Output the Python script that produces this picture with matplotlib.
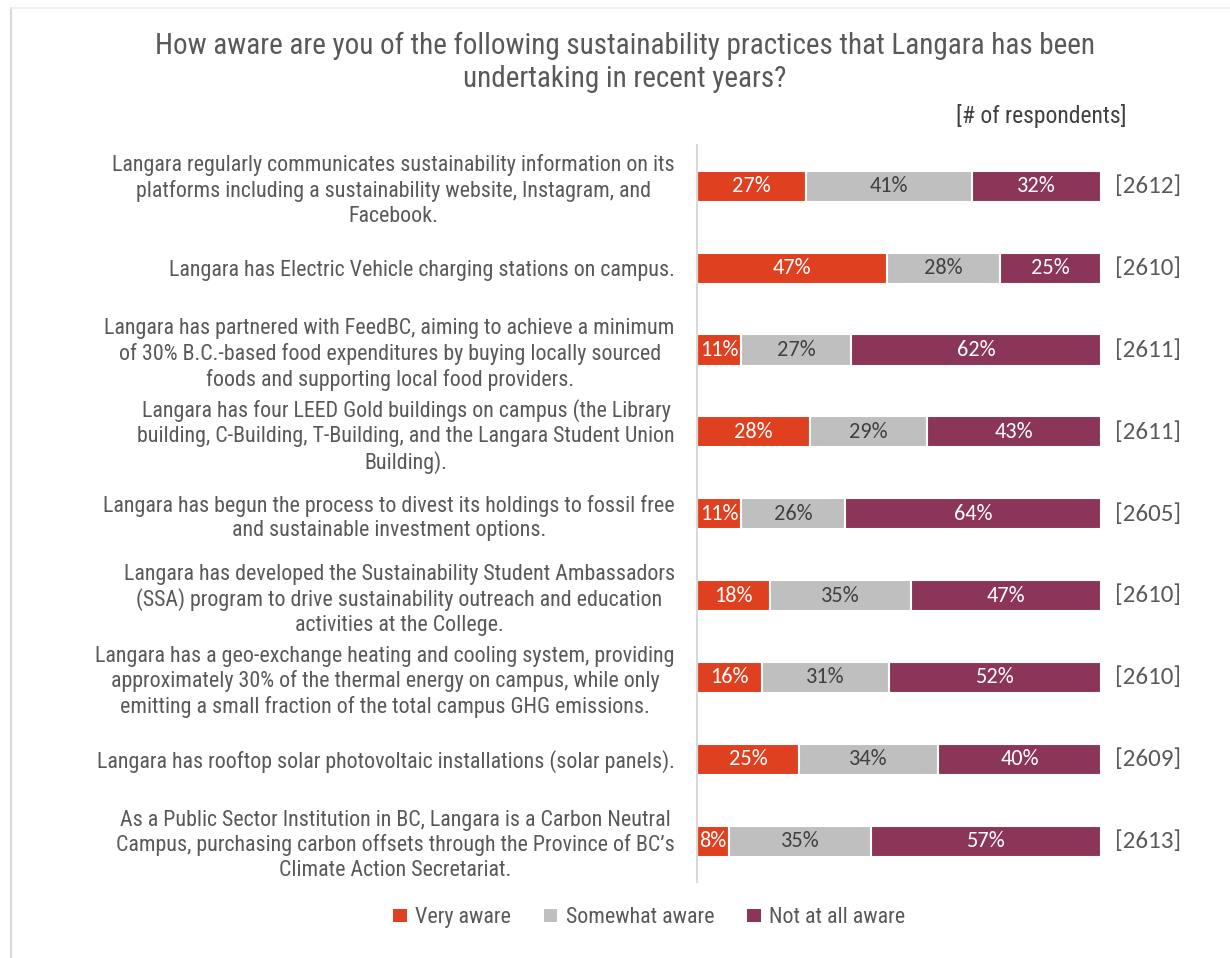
import numpy as np
import matplotlib
matplotlib.use('Agg')
import matplotlib.pyplot as plt
from matplotlib.patches import Patch
from matplotlib import font_manager

# ---- data ----
questions = [
    "Langara regularly communicates sustainability information on its\nplatforms including a sustainability website, Instagram, and\nFacebook.",
    "Langara has Electric Vehicle charging stations on campus.",
    "Langara has partnered with FeedBC, aiming to achieve a minimum\nof 30% B.C.-based food expenditures by buying locally sourced\nfoods and supporting local food providers.",
    "Langara has four LEED Gold buildings on campus (the Library\nbuilding, C-Building, T-Building, and the Langara Student Union\nBuilding).",
    "Langara has begun the process to divest its holdings to fossil free\nand sustainable investment options.",
    "Langara has developed the Sustainability Student Ambassadors\n(SSA) program to drive sustainability outreach and education\nactivities at the College.",
    "Langara has a geo-exchange heating and cooling system, providing\napproximately 30% of the thermal energy on campus, while only\nemitting a small fraction of the total campus GHG emissions.",
    "Langara has rooftop solar photovoltaic installations (solar panels).",
    "As a Public Sector Institution in BC, Langara is a Carbon Neutral\nCampus, purchasing carbon offsets through the Province of BC\u2019s\nClimate Action Secretariat.",
]
very_aware = [27, 47, 11, 28, 11, 18, 16, 25, 8]
somewhat_aware = [41, 28, 27, 29, 26, 35, 31, 34, 35]
not_aware = [32, 25, 62, 43, 64, 47, 52, 40, 57]
respondents = [2612, 2610, 2611, 2611, 2605, 2610, 2610, 2609, 2613]
series_names = ["Very aware", "Somewhat aware", "Not at all aware"]

# ---- pick a narrow font if there is one ----
fonts = font_manager.fontManager.ttflist
cond_name, cond_stretch = None, 'normal'
for cand in ['Liberation Sans Narrow', 'Roboto Condensed', 'Open Sans Condensed',
             'Noto Sans Condensed', 'DejaVu Sans Condensed', 'Arial Narrow']:
    if any(f.name == cand for f in fonts):
        cond_name = cand
        break
if cond_name is None:
    for fam in ['DejaVu Sans', 'Noto Sans', 'Open Sans', 'Roboto']:
        if any(f.name == fam and str(f.stretch) in ('condensed', 'semi-condensed', '87.5', '75') for f in fonts):
            cond_name, cond_stretch = fam, 'condensed'
            break
if cond_name is None:
    cond_name, cond_stretch = 'Roboto', 'normal'
narrow = cond_stretch == 'condensed' or cond_name != 'Roboto'
scale = 1.0 if narrow else 0.88

def cfont(size, **kw):
    return font_manager.FontProperties(family=[cond_name, 'DejaVu Sans'],
                                       stretch=cond_stretch, size=size * scale, **kw)

num_font = ['Carlito', 'Lato', 'DejaVu Sans']
colors = ['#DF4020', '#BFBFBF', '#8B3559']
label_colors = ['white', '#404040', 'white']
txt_gray = '#595959'

fig = plt.figure(figsize=(12.3, 9.58), dpi=100)
ax = fig.add_axes([0.5667, 0.0793, 0.3285, 0.769])

vals = np.array([very_aware, somewhat_aware, not_aware], dtype=float)
shares = vals / vals.sum(axis=0) * 100
y = np.arange(len(questions))

left = np.zeros(len(questions))
for k in range(3):
    ax.barh(y, shares[k], left=left, height=0.38, color=colors[k],
            edgecolor='white', linewidth=1.5, label=series_names[k])
    for i in range(len(questions)):
        ax.text(left[i] + shares[k][i] / 2, y[i], f"{int(vals[k][i])}%",
                ha='center', va='center', fontsize=16,
                color=label_colors[k], family=num_font)
    left = left + shares[k]

# respondent counts
for i, n in enumerate(respondents):
    ax.text(103.5, y[i], f"[{n}]", ha='left', va='center', fontsize=18,
            color=txt_gray, family=num_font, clip_on=False)

ax.set_xlim(0, 100)
ax.set_ylim(len(questions) - 0.5, -0.5)
ax.set_yticks(y)
ax.set_yticklabels(questions, multialignment='center', color=txt_gray,
                   fontproperties=cfont(15.8), linespacing=1.22)
ax.tick_params(axis='y', length=0, pad=16)
ax.set_xticks([])
for s in ['top', 'right', 'bottom']:
    ax.spines[s].set_visible(False)
ax.spines['left'].set_color('#D9D9D9')
ax.spines['left'].set_linewidth(1.5)

# title and subtitle
fig.text(0.508, 0.935, "How aware are you of the following sustainability practices that Langara has been\nundertaking in recent years?",
         ha='center', va='center', color=txt_gray, fontproperties=cfont(21),
         linespacing=1.25)
fig.text(0.916, 0.879, "[# of respondents]", ha='right', va='center',
         color='#404040', fontproperties=cfont(17))

# legend
handles = [Patch(facecolor=c) for c in colors]
fig.legend(handles, series_names, loc='center', bbox_to_anchor=(0.528, 0.042),
           ncol=3, frameon=False, handlelength=0.6, handleheight=0.6,
           handletextpad=0.4, columnspacing=1.5,
           prop=cfont(15.8), labelcolor=txt_gray)

# outer chart frame (left and top edges visible)
fig.add_artist(plt.Line2D([0.009, 0.009], [0.0, 0.9916], color='#D9D9D9', lw=1.5))
fig.add_artist(plt.Line2D([0.009, 1.0], [0.9916, 0.9916], color='#EDEDED', lw=1.2))

fig.savefig('out.png', dpi=100)
